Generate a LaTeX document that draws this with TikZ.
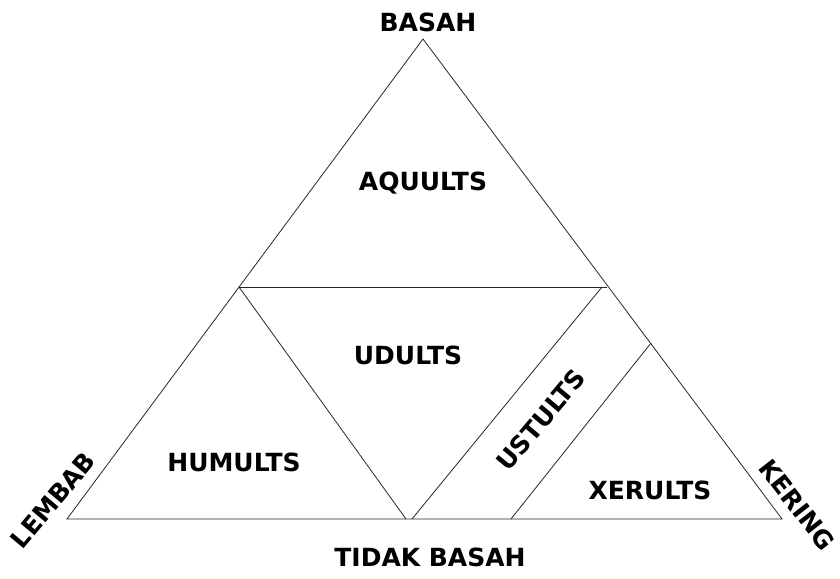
\documentclass[tikz,border=0pt]{standalone}
\usepackage{fontspec}
\setmainfont{DejaVu Sans}
\usepackage{tikz}
\usetikzlibrary{calc}

\begin{document}
\begin{tikzpicture}[x=1pt,y=-1pt,
    edge/.style={draw=black!85,line width=0.8pt},
    lbl/.style={font=\fontsize{25}{28}\selectfont\bfseries,inner sep=0pt}]
    \useasboundingbox (0,0) rectangle (840,578);
    % outer triangle
    \coordinate (top) at (423,39);
    \coordinate (wet) at (67,519);
    \coordinate (dry) at (782,519);
    \draw[edge] (top)--(wet)--(dry)--cycle;
    % inner lines
    \coordinate (hl) at (239,287);
    \coordinate (hr) at (607,287);
    \coordinate (ud) at (406,519);
    \coordinate (us1) at (602,287);
    \coordinate (us2) at (412,519);
    \coordinate (xe1) at (651,343);
    \coordinate (xe2) at (511,519);
    \draw[edge] (hl)--(hr);
    \draw[edge] (hl)--(ud);
    \draw[edge] (us1)--(us2);
    \draw[edge] (xe1)--(xe2);

    \node[lbl] (basah) at (428,22) {BASAH};
    \node[lbl] (tidak) at (430,557) {TIDAK BASAH};
    \node[lbl,rotate=50] (lembab) at (53,500) {LEMBAB};
    \node[lbl,rotate=-52] (kering) at (797,505) {KERING};
    \node[lbl] (aquults) at (423,183) {AQUULTS};
    \node[lbl] (udults) at (408,355) {UDULTS};
    \node[lbl] (humults) at (234,462) {HUMULTS};
    \node[lbl,rotate=50] (ustults) at (541,420) {USTULTS};
    \node[lbl] (xerults) at (650,490) {XERULTS};
  \end{tikzpicture}
\end{document}
